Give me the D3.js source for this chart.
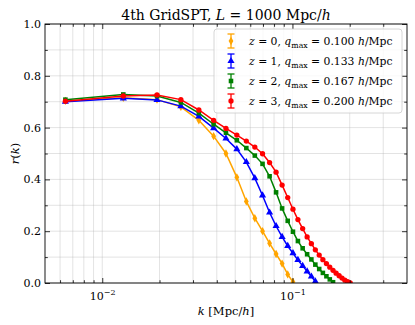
<!DOCTYPE html>
<html>
<head>
<meta charset="utf-8">
<script src="https://cdn.jsdelivr.net/npm/d3@7"></script>
<style>
  body { margin: 0; background: #fff; }
  svg { display: block; font-family: "DejaVu Serif", "Liberation Serif", serif; }
</style>
</head>
<body>
<div id="chart"></div>
<script>
// k bins [Mpc/h]
const kValues = [0.0064, 0.0129, 0.0194, 0.0259, 0.0322, 0.0385, 0.0447, 0.0510,
                 0.0572, 0.0634, 0.0696, 0.0758, 0.0820, 0.0882, 0.0944, 0.1006,
                 0.1068, 0.1131, 0.1194, 0.1257, 0.1319, 0.1382, 0.1445, 0.1508,
                 0.1571, 0.1634, 0.1696, 0.1759, 0.1822, 0.1885, 0.1948, 0.2011];

// r(k) for each redshift
const rZ0 = [0.703, 0.715, 0.708, 0.680, 0.628, 0.567, 0.500, 0.408, 0.315, 0.250,
             0.200, 0.153, 0.112, 0.075, 0.033, 0.004];
const rZ1 = [0.700, 0.713, 0.707, 0.683, 0.643, 0.598, 0.558, 0.517, 0.467, 0.405,
             0.338, 0.272, 0.220, 0.178, 0.143, 0.115, 0.089, 0.066, 0.045, 0.025, 0.006];
const rZ2 = [0.708, 0.728, 0.722, 0.697, 0.656, 0.613, 0.580, 0.551, 0.521, 0.492,
             0.460, 0.412, 0.350, 0.288, 0.240, 0.198, 0.162, 0.134, 0.111, 0.091,
             0.071, 0.054, 0.039, 0.026, 0.014, 0.003];
const rZ3 = [0.702, 0.722, 0.726, 0.708, 0.668, 0.628, 0.597, 0.571, 0.548, 0.525,
             0.499, 0.465, 0.428, 0.378, 0.330, 0.285, 0.245, 0.210, 0.178, 0.152,
             0.128, 0.108, 0.090, 0.075, 0.061, 0.049, 0.038, 0.028, 0.019, 0.011,
             0.005, 0.000];

const redshifts = ["0", "1", "2", "3"];
const qmaxLabels = ["0.100", "0.133", "0.167", "0.200"];
const seriesColors = ["orange", "blue", "green", "red"];

const xMajorTicks = [0.01, 0.1];
const xMinorTicks = [0.006, 0.007, 0.008, 0.009, 0.02, 0.03, 0.04, 0.05, 0.06, 0.07, 0.08, 0.09, 0.2, 0.3];
const yMajorTicks = [0, 0.2, 0.4, 0.6, 0.8, 1.0];
const yMinorTicks = [0.1, 0.3, 0.5, 0.7, 0.9];

// Chart sizing
const width = 415, height = 325;
const margin = { top: 24, right: 8, bottom: 42, left: 45 };
const innerWidth = width - margin.left - margin.right;
const innerHeight = height - margin.top - margin.bottom;

const svg = d3.select("#chart").append("svg")
    .attr("width", width)
    .attr("height", height);
svg.append("rect").attr("width", width).attr("height", height).attr("fill", "#fff");

const g = svg.append("g").attr("transform", `translate(${margin.left},${margin.top})`);

const x = d3.scaleLog().domain([0.005, 0.4]).range([0, innerWidth]);
const y = d3.scaleLinear().domain([0, 1]).range([innerHeight, 0]);

// Grid (major + minor)
const grid = g.append("g").attr("stroke", "#b0b0b0").attr("stroke-opacity", 0.45).attr("stroke-width", 0.8);
grid.selectAll(".vgrid").data(xMajorTicks.concat(xMinorTicks)).enter()
    .append("line")
    .attr("x1", d => x(d)).attr("x2", d => x(d))
    .attr("y1", 0).attr("y2", innerHeight);
grid.selectAll(".hgrid").data(yMajorTicks.concat(yMinorTicks)).enter()
    .append("line")
    .attr("x1", 0).attr("x2", innerWidth)
    .attr("y1", d => y(d)).attr("y2", d => y(d));

// Clip for data
svg.append("defs").append("clipPath").attr("id", "plot-clip")
    .append("rect").attr("width", innerWidth).attr("height", innerHeight);

const series = [rZ0, rZ1, rZ2, rZ3].map((vals, i) => ({
    color: seriesColors[i],
    points: vals.map((r, j) => ({ k: kValues[j], r }))
}));

const symbols = [
    d3.symbol().type(d3.symbolDiamond).size(20),
    d3.symbol().type(d3.symbolTriangle).size(22),
    d3.symbol().type(d3.symbolSquare).size(21),
    d3.symbol().type(d3.symbolCircle).size(22)
];

const line = d3.line().x(d => x(d.k)).y(d => y(d.r));
const dataG = g.append("g").attr("clip-path", "url(#plot-clip)");

series.forEach((s, i) => {
    const sg = dataG.append("g");
    sg.append("path")
        .datum(s.points)
        .attr("d", line)
        .attr("fill", "none")
        .attr("stroke", s.color)
        .attr("stroke-width", 1.5);
    sg.selectAll(".marker").data(s.points).enter()
        .append("path")
        .attr("d", symbols[i])
        .attr("transform", d => `translate(${x(d.k)},${y(d.r)})`)
        .attr("fill", s.color);
});

// Axes: inward ticks on all four sides
function styleAxis(sel) {
    sel.select(".domain").remove();
    sel.selectAll(".tick line").attr("stroke", "#000").attr("stroke-width", 0.8);
}
// tick-only axes carry no labels
function tickOnly(sel) {
    styleAxis(sel);
    sel.selectAll(".tick text").remove();
}

g.append("g").attr("transform", `translate(0,${innerHeight})`)
    .call(d3.axisBottom(x).tickValues(xMinorTicks).tickSizeInner(-2.8).tickSizeOuter(0))
    .call(tickOnly);
const xAxisG = g.append("g").attr("transform", `translate(0,${innerHeight})`)
    .call(d3.axisBottom(x).tickValues(xMajorTicks).tickSizeInner(-5).tickSizeOuter(0).tickPadding(9))
    .call(styleAxis);
xAxisG.selectAll("text")
    .attr("fill", "#000")
    .attr("font-size", 11)
    .attr("font-family", "DejaVu Serif, serif")
    .each(function (d) {
        const t = d3.select(this).text("");
        t.append("tspan").text("10");
        t.append("tspan").attr("dy", -5).attr("font-size", 8).text("\u2212" + Math.round(-Math.log10(d)));
    });

g.append("g")
    .call(d3.axisTop(x).tickValues(xMinorTicks).tickSizeInner(-2.8).tickSizeOuter(0))
    .call(tickOnly);
g.append("g")
    .call(d3.axisTop(x).tickValues(xMajorTicks).tickSizeInner(-5).tickSizeOuter(0))
    .call(tickOnly);

g.append("g")
    .call(d3.axisLeft(y).tickValues(yMinorTicks).tickSizeInner(-2.8).tickSizeOuter(0))
    .call(tickOnly);
const yAxisG = g.append("g")
    .call(d3.axisLeft(y).tickValues(yMajorTicks).tickFormat(d3.format(".1f")).tickSizeInner(-5).tickSizeOuter(0).tickPadding(4))
    .call(styleAxis);
yAxisG.selectAll("text")
    .attr("fill", "#000")
    .attr("font-size", 11)
    .attr("font-family", "DejaVu Serif, serif");

g.append("g").attr("transform", `translate(${innerWidth},0)`)
    .call(d3.axisRight(y).tickValues(yMinorTicks).tickSizeInner(-2.8).tickSizeOuter(0))
    .call(tickOnly);
g.append("g").attr("transform", `translate(${innerWidth},0)`)
    .call(d3.axisRight(y).tickValues(yMajorTicks).tickSizeInner(-5).tickSizeOuter(0))
    .call(tickOnly);

// Frame
g.append("rect")
    .attr("width", innerWidth).attr("height", innerHeight)
    .attr("fill", "none").attr("stroke", "#000").attr("stroke-width", 0.9);

// Helper for math-like text runs
function mathText(sel, parts) {
    parts.forEach(p => {
        const ts = sel.append("tspan").text(p.t);
        if (p.i) ts.attr("font-style", "italic");
        if (p.sub) ts.attr("font-size", "0.72em").attr("dy", 3);
        if (p.up) ts.attr("dy", -3);
    });
}

// Title
const title = svg.append("text")
    .attr("x", margin.left + innerWidth / 2)
    .attr("y", 20)
    .attr("text-anchor", "middle")
    .attr("font-size", 14)
    .attr("fill", "#000");
mathText(title, [{ t: "4th GridSPT, " }, { t: "L", i: true }, { t: " = 1000 Mpc/" }, { t: "h", i: true }]);

// X label
const xLabel = svg.append("text")
    .attr("x", margin.left + innerWidth / 2)
    .attr("y", 315)
    .attr("text-anchor", "middle")
    .attr("font-size", 11.5)
    .attr("fill", "#000");
mathText(xLabel, [{ t: "k", i: true }, { t: " [Mpc/" }, { t: "h", i: true }, { t: "]" }]);

// Y label
const yLabel = svg.append("text")
    .attr("transform", `translate(19,${margin.top + innerHeight / 2})rotate(-90)`)
    .attr("text-anchor", "middle")
    .attr("font-size", 11.5)
    .attr("fill", "#000");
mathText(yLabel, [{ t: "r", i: true }, { t: "(" }, { t: "k", i: true }, { t: ")" }]);

// Legend
const legend = svg.append("g").attr("transform", "translate(214,29)");
legend.append("rect")
    .attr("width", 188).attr("height", 84).attr("rx", 3)
    .attr("fill", "#fff").attr("fill-opacity", 0.8)
    .attr("stroke", "#cccccc").attr("stroke-width", 0.8);

series.forEach((s, i) => {
    const row = legend.append("g").attr("transform", `translate(0,${12 + i * 20})`);
    const mx = 17;
    row.append("line").attr("x1", mx).attr("x2", mx).attr("y1", -7).attr("y2", 7)
        .attr("stroke", s.color).attr("stroke-width", 1.3);
    [-7, 7].forEach(dy => row.append("line")
        .attr("x1", mx - 3.5).attr("x2", mx + 3.5).attr("y1", dy).attr("y2", dy)
        .attr("stroke", s.color).attr("stroke-width", 1.3));
    row.append("path").attr("d", symbols[i]).attr("transform", `translate(${mx},0)`).attr("fill", s.color);
    const txt = row.append("text")
        .attr("x", 35).attr("y", 4)
        .attr("font-size", 10.8)
        .attr("fill", "#000");
    mathText(txt, [
        { t: "z", i: true }, { t: " = " + redshifts[i] + ", " },
        { t: "q", i: true }, { t: "max", sub: true },
        { t: " = " + qmaxLabels[i] + " ", up: true },
        { t: "h", i: true }, { t: "/Mpc" }
    ]);
});
</script>
</body>
</html>
